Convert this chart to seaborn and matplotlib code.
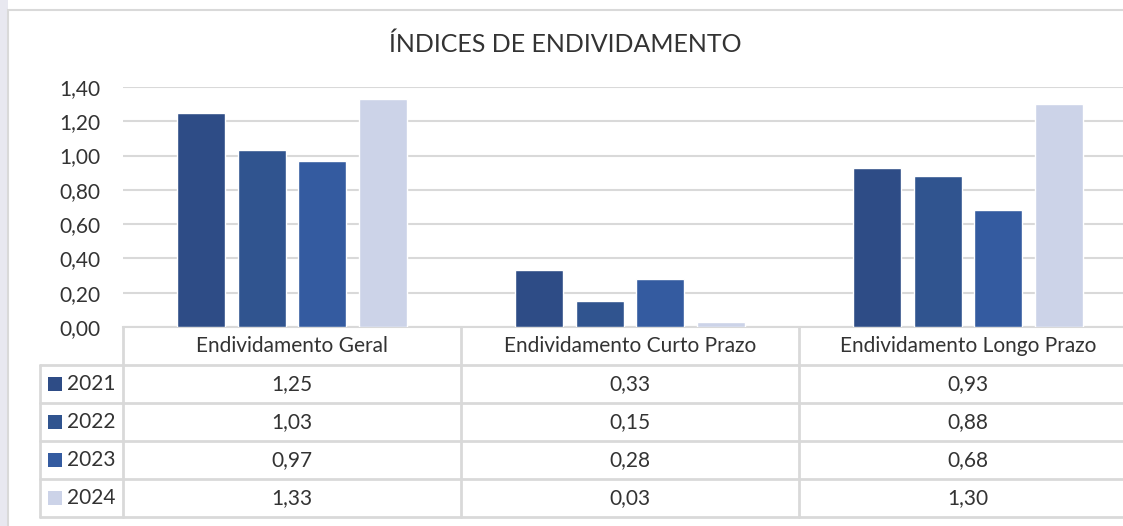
import matplotlib
matplotlib.use("Agg")
import matplotlib.pyplot as plt
import matplotlib.transforms as mtransforms
from matplotlib.patches import Rectangle
from matplotlib.ticker import FuncFormatter
import pandas as pd
import seaborn as sns

# dados
indices = ["Endividamento Geral", "Endividamento Curto Prazo", "Endividamento Longo Prazo"]
anos = ["2021", "2022", "2023", "2024"]
v2021 = [1.25, 0.33, 0.93]
v2022 = [1.03, 0.15, 0.88]
v2023 = [0.97, 0.28, 0.68]
v2024 = [1.33, 0.03, 1.30]
cores = ["#2e4c86", "#30548f", "#345ba0", "#ccd3e8"]

valores = [v2021, v2022, v2023, v2024]
df = pd.DataFrame([(i, a, v) for a, vs in zip(anos, valores) for i, v in zip(indices, vs)],
                  columns=["indice", "ano", "valor"])

sns.set_theme(style="white")
plt.rcParams["font.family"] = ["Lato", "DejaVu Sans"]

W, H = 1123, 526
fs = 15
txt = "#333333"
fig = plt.figure(figsize=(W / 100, H / 100), dpi=100)
fig.patch.set_facecolor("white")

# fundo / moldura do gráfico
fig.patches.append(Rectangle((0, 0), 8 / W, 1, transform=fig.transFigure,
                             facecolor="#e8e8f0", edgecolor="none", zorder=-2))
fig.patches.append(Rectangle((8 / W, -0.01), 1.02 - 8 / W, 1 - 10 / H + 0.01,
                             transform=fig.transFigure, facecolor="white",
                             edgecolor="#d9d9d9", linewidth=1.5, zorder=-1))

left, right, top, bottom = 123, 1137, 87, 327
ax = fig.add_axes([left / W, 1 - bottom / H, (right - left) / W, (bottom - top) / H])
ax.set_facecolor("none")
ax.set_zorder(1)

sns.barplot(data=df, x="indice", y="valor", hue="ano", palette=cores, saturation=1,
            width=0.72, gap=0.21, ax=ax, legend=False, zorder=3)

ax.set_ylim(0, 1.4)
ax.set_xlim(-0.5, 2.5)
ax.set_yticks([i * 0.2 for i in range(8)])
ax.yaxis.set_major_formatter(FuncFormatter(lambda v, p: f"{v:.2f}".replace(".", ",")))
ax.tick_params(axis="y", labelsize=fs, colors=txt, pad=16, length=0)
ax.set_xticks([])
ax.set_xlabel("")
ax.set_ylabel("")
ax.grid(axis="y", color="#d9d9d9", linewidth=1.5, zorder=0)
ax.set_axisbelow(True)
for s in ["top", "right", "left"]:
    ax.spines[s].set_visible(False)
ax.spines["bottom"].set_color("#d9d9d9")
ax.spines["bottom"].set_linewidth(1.5)

fig.text(565 / W, 1 - 44 / H, "ÍNDICES DE ENDIVIDAMENTO", ha="center", va="center",
         fontsize=18, color=txt)

# tabela de dados
px = lambda x, y: (x / W, 1 - y / H)
linha = dict(color="#d9d9d9", linewidth=2, transform=fig.transFigure, zorder=5)
rows_y = [327, 365, 403, 441, 479, 517]
cols_x = [123, 461, 799]
for y in rows_y[1:]:
    fig.add_artist(plt.Line2D([40 / W, 1], [1 - y / H] * 2, **linha))
fig.add_artist(plt.Line2D([40 / W] * 2, [1 - 365 / H, 1 - 517 / H], **linha))
for x in cols_x:
    fig.add_artist(plt.Line2D([x / W] * 2, [1 - 327 / H, 1 - 517 / H], **linha))

trans = mtransforms.blended_transform_factory(ax.transData, fig.transFigure)
for i, nome in enumerate(indices):
    ax.text(i, 1 - 346 / H, nome, transform=trans, ha="center", va="center",
            fontsize=fs, color=txt, clip_on=False)
for r, (ano, vs, cor) in enumerate(zip(anos, valores, cores)):
    yc = (rows_y[r + 1] + rows_y[r + 2]) / 2
    fig.patches.append(Rectangle(px(48, yc + 7), 14 / W, 14 / H, transform=fig.transFigure,
                                 facecolor=cor, edgecolor="none", zorder=6))
    fig.text(67 / W, 1 - yc / H, ano, ha="left", va="center", fontsize=fs, color=txt)
    for i, v in enumerate(vs):
        ax.text(i, 1 - yc / H, f"{v:.2f}".replace(".", ","), transform=trans,
                ha="center", va="center", fontsize=fs, color=txt, clip_on=False)

fig.savefig("out.png", dpi=100)
